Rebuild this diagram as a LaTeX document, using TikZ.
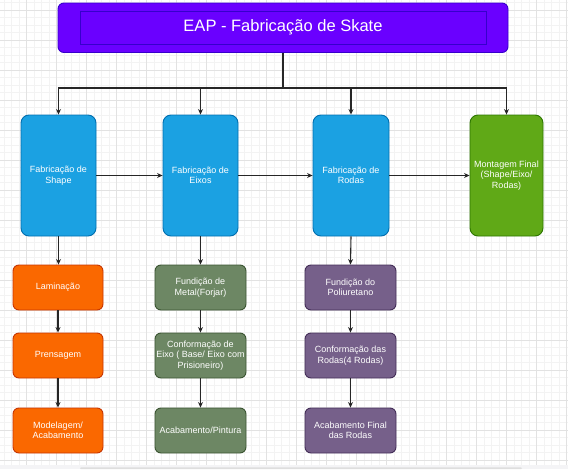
\documentclass[tikz,border=0pt]{standalone}
\usepackage{fontspec}
\setmainfont{Liberation Sans}
\usetikzlibrary{arrows.meta}
\definecolor{titlefill}{HTML}{6A00FF}
\definecolor{titleline}{HTML}{3700CC}
\definecolor{bluefill}{HTML}{1BA1E2}
\definecolor{blueline}{HTML}{006EAF}
\definecolor{greenfill}{HTML}{60A917}
\definecolor{greenline}{HTML}{2D7600}
\definecolor{orangefill}{HTML}{FA6800}
\definecolor{orangeline}{HTML}{C73500}
\definecolor{olivefill}{HTML}{6D8764}
\definecolor{oliveline}{HTML}{3A5431}
\definecolor{purplefill}{HTML}{76608A}
\definecolor{purpleline}{HTML}{432D57}
\definecolor{minorgrid}{HTML}{F3F3F3}
\definecolor{majorgrid}{HTML}{E2E2E2}
\definecolor{bandgray}{HTML}{F4F4F6}
\definecolor{scrollgray}{HTML}{DEDEDE}
\tikzset{
  box/.style={draw, line width=0.9pt, text=white, align=center, inner sep=0pt,
    font=\fontsize{9}{10.5}\selectfont},
  bigbox/.style={box, rounded corners=8pt, minimum width=75pt, minimum height=121pt},
  smallbox/.style={box, rounded corners=6pt, minimum width=91pt, minimum height=45pt},
  bluebox/.style={bigbox, fill=bluefill, draw=blueline},
  greenbox/.style={bigbox, fill=greenfill, draw=greenline, minimum width=73pt},
  orangebox/.style={smallbox, fill=orangefill, draw=orangeline, minimum width=90pt},
  olivebox/.style={smallbox, fill=olivefill, draw=oliveline},
  purplebox/.style={smallbox, fill=purplefill, draw=purpleline},
  conn/.style={line width=1.1pt, draw=black!85},
  arr/.style={conn, -{Stealth[length=5.5pt,width=5pt]}},
}
\begin{document}
\begin{tikzpicture}[x=1pt,y=-1pt]
\useasboundingbox (0,0) rectangle (568,469);
\fill[white] (0,0) rectangle (568,469);
% grid
\begin{scope}
\clip (0,0) rectangle (568,465);
\foreach \i in {0,...,76} {\draw[minorgrid, line width=0.6pt] ({-3.3+7.5*\i},0) -- ++(0,465);}
\foreach \i in {0,...,62} {\draw[minorgrid, line width=0.6pt] (0,{2.5+7.5*\i}) -- ++(568,0);}
\foreach \i in {0,...,19} {\draw[majorgrid, line width=0.7pt] ({-3.3+30*\i},0) -- ++(0,465);}
\foreach \i in {0,...,15} {\draw[majorgrid, line width=0.7pt] (0,{10+30*\i}) -- ++(568,0);}
\end{scope}
\fill[bandgray] (0,465) rectangle (568,469);
\fill[scrollgray, rounded corners=1pt] (80,467.3) rectangle (522,469);

% title
\node[draw=titleline, fill=titlefill, rounded corners=6pt, line width=0.9pt,
  minimum width=450pt, minimum height=49.5pt, inner sep=0pt] (title) at (283,27.75) {};
\node[draw=titleline, line width=0.8pt, minimum width=406pt, minimum height=33pt,
  inner sep=0pt, text=white, font=\fontsize{16.5}{19}\selectfont] (titletext) at (283,27.5) {EAP - Fabricação de Skate};

% main boxes
\node[bluebox] (shape) at (58.5,175.5) {Fabricação de\\Shape};
\node[bluebox] (eixos) at (200.5,175.5) {Fabricação de\\Eixos};
\node[bluebox, minimum width=76pt] (rodas) at (351,175.5) {Fabricação de\\Rodas};
\node[greenbox] (montagem) at (506.5,175.5) {Montagem Final\\(Shape/Eixo/\\Rodas)};

% shape column
\node[orangebox] (lam) at (58,287.5) {Laminação};
\node[orangebox] (pren) at (58,355.5) {Prensagem};
\node[orangebox] (mod) at (58,430.5) {Modelagem/\\Acabamento};

% eixos column
\node[olivebox] (fund) at (200.5,287.5) {Fundição de\\Metal(Forjar)};
\node[olivebox] (conf) at (200.5,355.5) {Conformação de\\Eixo ( Base/ Eixo com\\Prisioneiro)};
\node[olivebox] (acab) at (200.5,430.5) {Acabamento/Pintura};

% rodas column
\node[purplebox] (fpol) at (350.5,287.5) {Fundição do\\Poliuretano};
\node[purplebox] (crod) at (350.5,355.5) {Conformação das\\Rodas(4 Rodas)};
\node[purplebox] (arod) at (350.5,430.5) {Acabamento Final\\das Rodas};

% tree connectors
\coordinate (bus) at (283,88);
\draw[conn] (title.south) -- (bus);
\draw[arr] (bus) -| (shape.north);
\draw[arr] (bus) -| (eixos.north);
\draw[arr] (bus) -| (rodas.north);
\draw[arr] (bus) -| (montagem.north);

% horizontal
\draw[arr] (shape.east) -- (eixos.west);
\draw[arr] (eixos.east) -- (rodas.west);
\draw[arr] (rodas.east) -- (montagem.west);

% vertical chains
\draw[arr] (shape.south) -- (shape.south |- lam.north);
\draw[arr] (lam) -- (pren);
\draw[arr] (pren) -- (mod);
\draw[arr] (eixos.south) -- (fund.north);
\draw[arr] (fund) -- (conf);
\draw[arr] (conf) -- (acab);
\draw[arr] (rodas.south) -- (fpol.north);
\draw[arr] (fpol) -- (crod);
\draw[arr] (crod) -- (arod);
\end{tikzpicture}
\end{document}
